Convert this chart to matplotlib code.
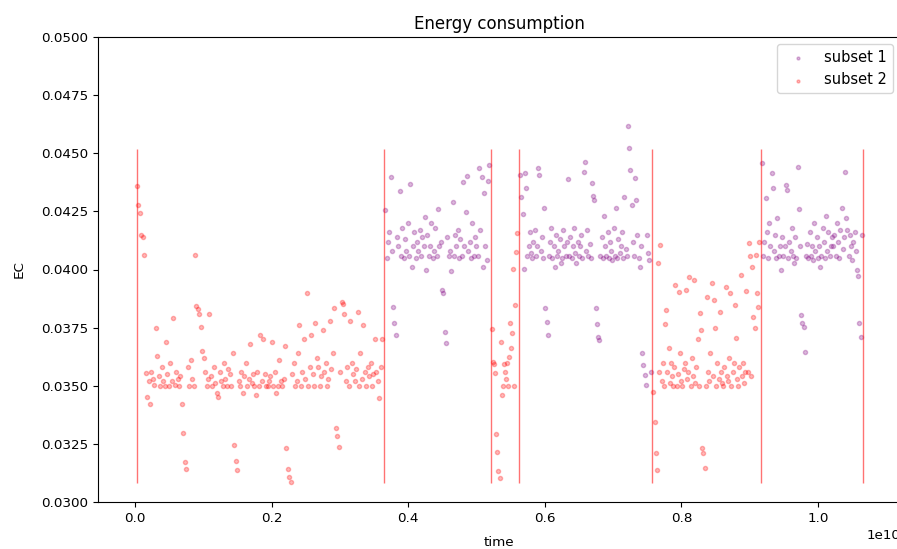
import numpy as np
from matplotlib import pyplot as plt

# EC readings in units of 1e-5, one list per run in time order
seg1_y = [4359, 4277, 4243, 4148, 4140, 4062, 3555, 3452, 3520, 3422,
          3560, 3530, 3502, 3750, 3630, 3540, 3500, 3580, 3520, 3500,
          3690, 3550, 3500, 3600, 3520, 3790, 3505, 3560, 3530, 3500,
          3540, 3420, 3298, 3171, 3142, 3580, 3500, 3610, 3530, 3500,
          4062, 3843, 3830, 3810, 3753, 3650, 3620, 3560, 3500, 3530,
          3810, 3540, 3500, 3580, 3510, 3470, 3450, 3560, 3520, 3500,
          3600, 3530, 3500, 3570, 3550, 3500, 3640, 3245, 3176, 3138,
          3520, 3500, 3560, 3470, 3540, 3600, 3500, 3530, 3680, 3510,
          3550, 3500, 3460, 3560, 3500, 3720, 3520, 3700, 3550, 3500,
          3500, 3520, 3540, 3690, 3500, 3560, 3470, 3500, 3610, 3520,
          3500, 3530, 3670, 3232, 3140, 3108, 3086, 3550, 3600, 3500,
          3520, 3640, 3760, 3500, 3560, 3700, 3530, 3900, 3500, 3580,
          3720, 3550, 3500, 3770, 3620, 3580, 3500, 3540, 3740, 3560,
          3600, 3500, 3530, 3780, 3570, 3640, 3834, 3318, 3284, 3237,
          3560, 3860, 3850, 3810, 3520, 3580, 3500, 3780, 3600, 3550,
          3520, 3570, 3817, 3500, 3640, 3530, 3760, 3560, 3500, 3580,
          3540, 3600, 3500, 3550, 3700, 3560, 3520, 3447, 3580, 3700]
seg2_y = [4256, 4050, 4120, 4160, 4398, 4080, 3839, 3770, 3718, 4140,
          4100, 4338, 4060, 4180, 4050, 4130, 4080, 4200, 4060, 4368,
          4011, 4100, 4160, 4050, 4120, 4080, 4170, 4060, 4140, 4100,
          4226, 4000, 4150, 4060, 4100, 4200, 4050, 4080, 4180, 4060,
          4260, 4100, 4120, 3912, 3900, 3730, 3684, 4140, 4060, 4080,
          3994, 4290, 4060, 4150, 4100, 4170, 4050, 4130, 4060, 4376,
          4100, 4247, 4402, 4080, 4120, 4050, 4200, 4060, 4140, 4100,
          4060, 4437, 4170, 4400, 4010, 4330, 4100, 4040, 4380, 4450]
seg3_y = [3744, 3602, 3594, 3555, 3292, 3215, 3133, 3103, 3688, 3460,
          3500, 3594, 3560, 3530, 3600, 3500, 3624, 3770, 3662, 3727,
          4002, 3500, 3847, 4075, 4157]
seg4_y = [4406, 4312, 4239, 4002, 4415, 4350, 4060, 4100, 4160, 4070,
          4050, 4120, 4170, 4060, 4100, 4437, 4406, 4080, 4140, 4050,
          4264, 3834, 3774, 3718, 4060, 4120, 4180, 4050, 4100, 4010,
          4150, 4060, 4080, 4130, 4030, 4050, 4170, 4100, 4060, 4120,
          4390, 4060, 4140, 4050, 4100, 4180, 4070, 4030, 4120, 4060,
          4100, 4150, 4050, 4420, 4462, 4080, 4170, 4060, 4110, 4050,
          4372, 4315, 4299, 3834, 3766, 3710, 3697, 4060, 4140, 4050,
          4230, 4100, 4060, 4160, 4050, 4120, 4080, 4040, 4180, 4060,
          4264, 4050, 4130, 4070, 4100, 4160, 4050, 4312, 4090, 4060,
          4617, 4523, 4428, 4277, 4120, 4060, 4394, 4299, 4150, 4050,
          4010, 4100, 3641, 3589, 3546, 3503, 4148, 4070, 4041, 3560]
seg5_y = [3473, 3344, 3211, 3138, 4028, 3560, 4105, 3520, 3600, 3500,
          3766, 3826, 3560, 3662, 3510, 3600, 3540, 3500, 3580, 3933,
          3500, 3550, 3903, 3640, 3520, 3500, 3570, 3600, 3912, 3530,
          3560, 3968, 3500, 3620, 3540, 3955, 3510, 3580, 3700, 3500,
          3813, 3740, 3232, 3211, 3146, 3500, 3882, 3560, 3520, 3640,
          3942, 3540, 3869, 3748, 3500, 3600, 3530, 3817, 3560, 3510,
          3500, 3580, 3925, 3540, 3520, 3620, 3899, 3500, 3560, 3600,
          3847, 3705, 3530, 3500, 3580, 3976, 3540, 3600, 3510, 3560,
          3908, 3560, 4114, 4060, 3540, 4010, 3796, 3748, 4062, 3900,
          3840, 4118]
seg6_y = [4458, 4060, 4120, 4308, 4160, 4050, 4200, 4100, 4415, 4350,
          4080, 4150, 4050, 4220, 4060, 4100, 4000, 4140, 4060, 4100,
          4363, 4340, 4050, 4120, 4080, 4180, 4060, 4030, 4140, 4050,
          4441, 4260, 4100, 3804, 3770, 3753, 3645, 4060, 4110, 4050,
          4160, 4060, 4100, 4040, 4200, 4080, 4140, 4050, 4100, 4010,
          4060, 4180, 4120, 4050, 4230, 4080, 4160, 4060, 4100, 4140,
          4100, 4150, 4060, 4200, 4120, 4050, 4170, 4264, 4090, 4140,
          4420, 4220, 4170, 4060, 4150, 4100, 4040, 4120, 4160, 4080,
          4000, 3970, 3770, 3710, 4150]

# start / end time of each run (x 1e10) and which subset it belongs to
seg_start = [0.003, 0.3665, 0.523, 0.564, 0.759, 0.918]
seg_end = [0.362, 0.519, 0.560, 0.755, 0.914, 1.064]
seg_subset = [2, 1, 2, 1, 2, 1]

# change points (x 1e10)
change_points = [0.003, 0.3645, 0.521, 0.562, 0.757, 0.9165, 1.066]

segs = [seg1_y, seg2_y, seg3_y, seg4_y, seg5_y, seg6_y]

fig = plt.figure(figsize=(8.97, 5.49), dpi=100)
ax = fig.add_axes([98 / 897, 47 / 549, 802 / 897, 465 / 549])

pts = {1: ([], []), 2: ([], [])}
for y, t0, t1, sub in zip(segs, seg_start, seg_end, seg_subset):
    t = np.linspace(t0, t1, len(y)) * 1e10
    pts[sub][0].extend(t)
    pts[sub][1].extend(np.array(y) * 1e-5)

ax.scatter(pts[1][0], pts[1][1], s=9, color='purple', alpha=0.28, label='subset 1')
ax.scatter(pts[2][0], pts[2][1], s=9, color='red', alpha=0.28, label='subset 2')
ax.vlines(np.array(change_points) * 1e10, 0.0308, 0.0452, color='red', alpha=0.55, linewidth=1)

ax.set_xlim(-0.054e10, 1.12e10)
ax.set_ylim(0.030, 0.050)
ax.set_yticks(np.arange(0.030, 0.0501, 0.0025))
ax.tick_params(labelsize=9.7)
ax.xaxis.get_offset_text().set_fontsize(9.7)
ax.set_title('Energy consumption', fontsize=12)
ax.set_xlabel('time', fontsize=9.7, labelpad=8)
ax.set_ylabel('EC', fontsize=9.7, labelpad=11)
ax.legend(loc='upper right', fontsize=10.5, borderaxespad=0.5, markerscale=0.7)

plt.savefig('out.png')
